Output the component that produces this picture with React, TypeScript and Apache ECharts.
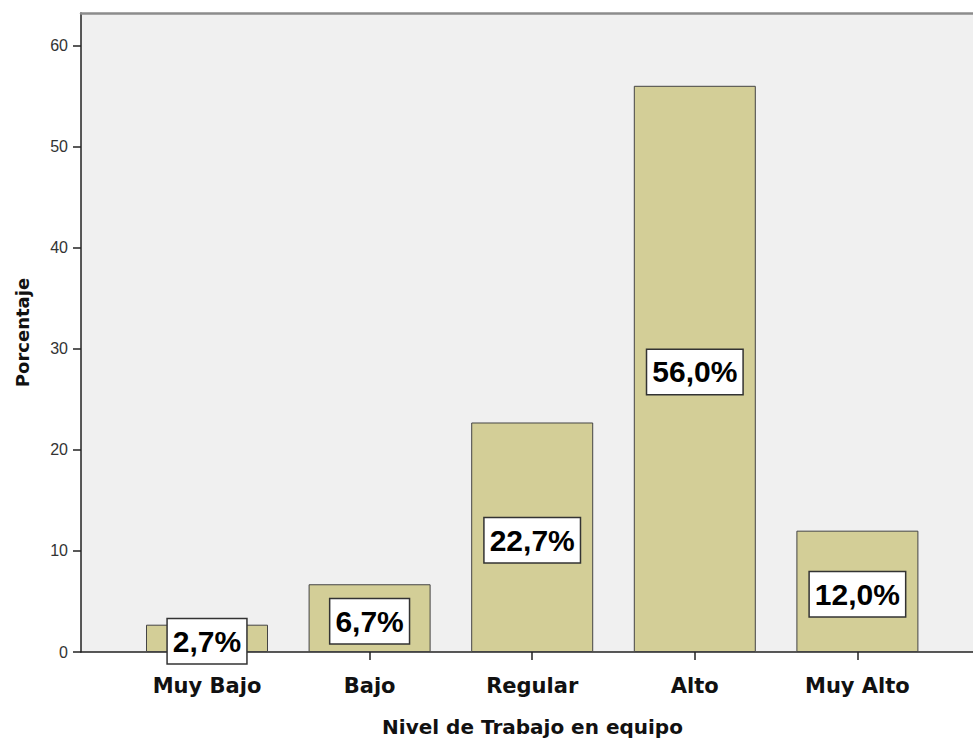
import React, { useEffect, useRef } from "react";
import * as echarts from "echarts";

const categories = ["Muy Bajo", "Bajo", "Regular", "Alto", "Muy Alto"];
const percentages = [2.7, 6.7, 22.7, 56.0, 12.0];
const yTicks = [0, 10, 20, 30, 40, 50, 60];
const xTitle = "Nivel de Trabajo en equipo";
const yTitle = "Porcentaje";

export default function App() {
  const ref = useRef<HTMLDivElement>(null);
  useEffect(() => {
    if (!ref.current) return;
    const chart = echarts.init(ref.current, null, { renderer: "svg" });
    const positions = categories.map((_, i) => i);
    const xMin = -0.775;
    const xMax = 4.711;
    chart.setOption({
      animation: false,
      backgroundColor: "#ffffff",
      grid: {
        left: 81,
        right: 0,
        top: 13,
        bottom: 90,
        show: true,
        backgroundColor: "#f0f0f0",
        borderWidth: 0,
      },
      xAxis: [
        {
          type: "value",
          min: xMin,
          max: xMax,
          name: xTitle,
          nameLocation: "middle",
          nameGap: 65,
          nameTextStyle: {
            fontFamily: "DejaVu Sans",
            fontWeight: "bold",
            fontSize: 20,
            color: "#111",
            padding: [0, 0, 0, 11],
          },
          axisLine: { show: true, onZero: false, lineStyle: { color: "#222", width: 1.5 } },
          axisTick: { show: true, length: 8, customValues: positions, lineStyle: { color: "#222", width: 1.5 } },
          axisLabel: {
            customValues: positions,
            formatter: (v: number) => categories[Math.round(v)] ?? "",
            fontFamily: "DejaVu Sans",
            fontWeight: "bold",
            fontSize: 21,
            color: "#111",
            margin: 23,
          },
          splitLine: { show: false },
        },
        {
          type: "value",
          position: "top",
          min: xMin,
          max: xMax,
          axisLine: { show: true, onZero: false, lineStyle: { color: "#8c8c8c", width: 2.5 } },
          axisTick: { show: false },
          axisLabel: { show: false },
          splitLine: { show: false },
        },
      ],
      yAxis: {
        type: "value",
        min: 0,
        max: 63.2,
        name: yTitle,
        nameLocation: "middle",
        nameGap: 50,
        nameRotate: 90,
        nameTextStyle: {
          fontFamily: "DejaVu Sans",
          fontWeight: "bold",
          fontSize: 18,
          color: "#111",
        },
        axisLine: { show: true, onZero: false, lineStyle: { color: "#222", width: 1.5 } },
        axisTick: { show: true, length: 8, customValues: yTicks, lineStyle: { color: "#222", width: 1.5 } },
        axisLabel: {
          customValues: yTicks,
          fontFamily: "Liberation Sans",
          fontSize: 16,
          color: "#333",
          margin: 13,
        },
        splitLine: { show: false },
      },
      series: [
        {
          type: "bar",
          xAxisIndex: 0,
          data: percentages.map((v, i) => [i, v]),
          barWidth: 122,
          itemStyle: { color: "#d3ce97", borderColor: "#444", borderWidth: 1 },
          label: {
            show: true,
            position: "inside",
            offset: [0, 3],
            formatter: (p: any) => p.value[1].toFixed(1).replace(".", ",") + "%",
            fontFamily: "Liberation Sans",
            fontWeight: "bold",
            fontSize: 30,
            lineHeight: 32,
            color: "#000",
            backgroundColor: "#ffffff",
            borderColor: "#333",
            borderWidth: 1.5,
            padding: [6, 5, 6, 5],
          },
        },
      ],
    });
    return () => chart.dispose();
  }, []);
  return <div ref={ref} style={{ width: 973, height: 742, position: "absolute", left: 0, top: 0 }} />;
}
